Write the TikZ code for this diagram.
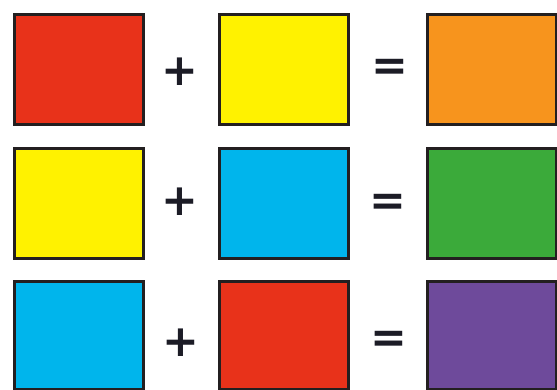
\documentclass[tikz,border=0pt]{standalone}
\usepackage{fontspec}
\newfontfamily\symfont{DejaVu Sans}
\definecolor{cred}{HTML}{E8321A}
\definecolor{cyellow}{HTML}{FFF200}
\definecolor{corange}{HTML}{F7941D}
\definecolor{cblue}{HTML}{00B5EC}
\definecolor{cgreen}{HTML}{3BAA3A}
\definecolor{cpurple}{HTML}{6E4A9B}
\definecolor{cedge}{HTML}{231F20}
\definecolor{csym}{HTML}{1C1C26}
\begin{document}
\begin{tikzpicture}[x=1pt,y=-1pt,
  swatch/.style={draw=cedge, line width=2.6pt, inner sep=0pt, minimum width=129pt, anchor=north west},
  sym/.style={text=csym, inner sep=0pt, font=\symfont\bfseries\fontsize{44}{44}\selectfont}]
\useasboundingbox (0,0) rectangle (557,390);
% row 1
\node[swatch, fill=cred,    minimum height=110pt] (r1a) at (13,13) {};
\node[swatch, fill=cyellow, minimum height=110pt] (r1b) at (218,13) {};
\node[swatch, fill=corange, minimum height=110pt] (r1c) at (426,13) {};
\node[sym] (p1) at (180,72) {+};
\node[sym] (e1) at (390,70) {=};
% row 2
\node[swatch, fill=cyellow, minimum height=110pt] (r2a) at (13,147) {};
\node[swatch, fill=cblue,   minimum height=110pt] (r2b) at (218,147) {};
\node[swatch, fill=cgreen,  minimum height=110pt] (r2c) at (426,147) {};
\node[sym] (p2) at (180,202) {+};
\node[sym] (e2) at (388,205) {=};
% row 3
\node[swatch, fill=cblue,   minimum height=108pt] (r3a) at (13,280) {};
\node[swatch, fill=cred,    minimum height=108pt] (r3b) at (218,280) {};
\node[swatch, fill=cpurple, minimum height=108pt] (r3c) at (426,280) {};
\node[sym] (p3) at (181,343) {+};
\node[sym] (e3) at (389,342) {=};
\end{tikzpicture}
\end{document}
